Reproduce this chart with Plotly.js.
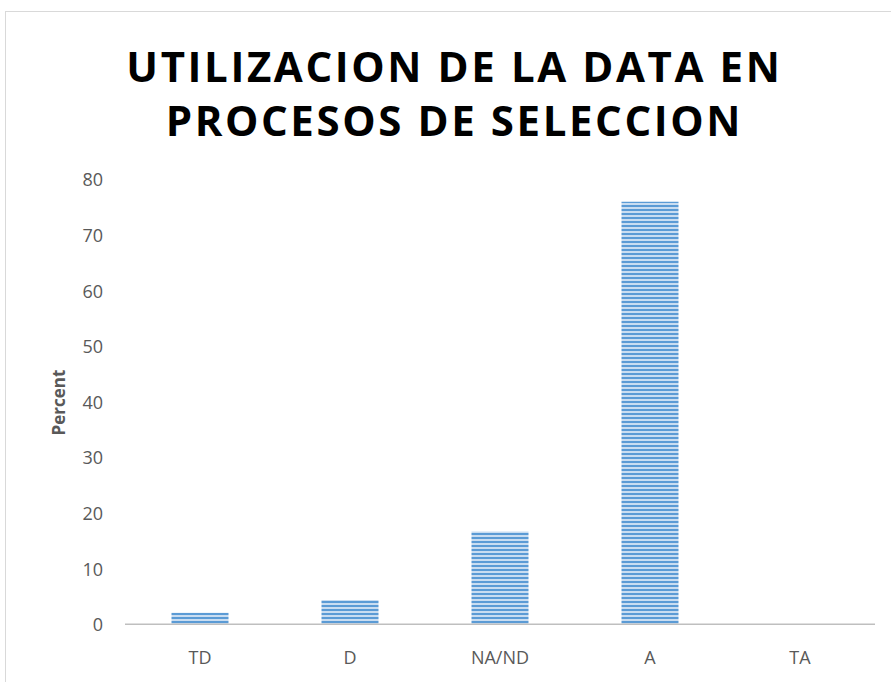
<!DOCTYPE html>
<html>
<head>
<meta charset="utf-8">
<script src="https://cdn.plot.ly/plotly-3.0.1.min.js"></script>
<style>
html, body { margin: 0; padding: 0; background: #fff; }
#wrap { position: relative; width: 891px; height: 682px; overflow: hidden; }
#frame { position: absolute; left: 5px; top: 11px; width: 900px; height: 700px; border: 1px solid #d9d9d9; box-sizing: border-box; pointer-events: none; }
#chart { position: absolute; left: 0; top: 0; width: 891px; height: 682px; }
.gtitle { letter-spacing: 2.6px; }
</style>
</head>
<body>
<div id="wrap">
<div id="chart"></div>
<div id="frame"></div>
</div>
<script>
const categories = ["TD", "D", "NA/ND", "A", "TA"];
const percentValues = [2.2, 4.5, 16.8, 76.1, 0];
const yTicks = [0, 10, 20, 30, 40, 50, 60, 70, 80];

const trace = {
  type: "bar",
  x: categories,
  y: percentValues,
  width: 0.38,
  marker: {
    color: "#c9ddf1",
    line: { width: 0 },
    pattern: { shape: "-", fgcolor: "#5b9bd5", bgcolor: "#c9ddf1", size: 4, solidity: 0.5 }
  },
  hoverinfo: "x+y"
};

const layout = {
  width: 891,
  height: 682,
  margin: { l: 125, r: 16, t: 180, b: 57 },
  paper_bgcolor: "#ffffff",
  plot_bgcolor: "#ffffff",
  showlegend: false,
  title: {
    text: "UTILIZACION DE LA DATA EN<br>PROCESOS DE SELECCION",
    font: { family: "Open Sans, DejaVu Sans, sans-serif", size: 42, color: "#000000", weight: 700 },
    x: 0.51,
    xanchor: "center",
    y: 0.88,
    yanchor: "top"
  },
  xaxis: {
    type: "category",
    range: [-0.5, 4.5],
    showgrid: false,
    showline: false,
    zeroline: false,
    ticks: "",
    tickfont: { family: "Open Sans, sans-serif", size: 18, color: "#595959" },
    ticklabelstandoff: 20
  },
  yaxis: {
    range: [0, 80],
    tickvals: yTicks,
    showgrid: false,
    showline: false,
    zeroline: false,
    ticks: "",
    tickfont: { family: "Open Sans, sans-serif", size: 18, color: "#595959" },
    ticklabelstandoff: 21,
    title: {
      text: "Percent",
      font: { family: "Open Sans, sans-serif", size: 17, color: "#595959", weight: 700 },
      standoff: 12
    }
  },
  shapes: [{
    type: "line", xref: "paper", yref: "y",
    x0: 0, x1: 1, y0: 0, y1: 0,
    line: { color: "#bfbfbf", width: 3 }
  }]
};

Plotly.newPlot("chart", [trace], layout, { displayModeBar: false, staticPlot: true });
</script>
</body>
</html>
